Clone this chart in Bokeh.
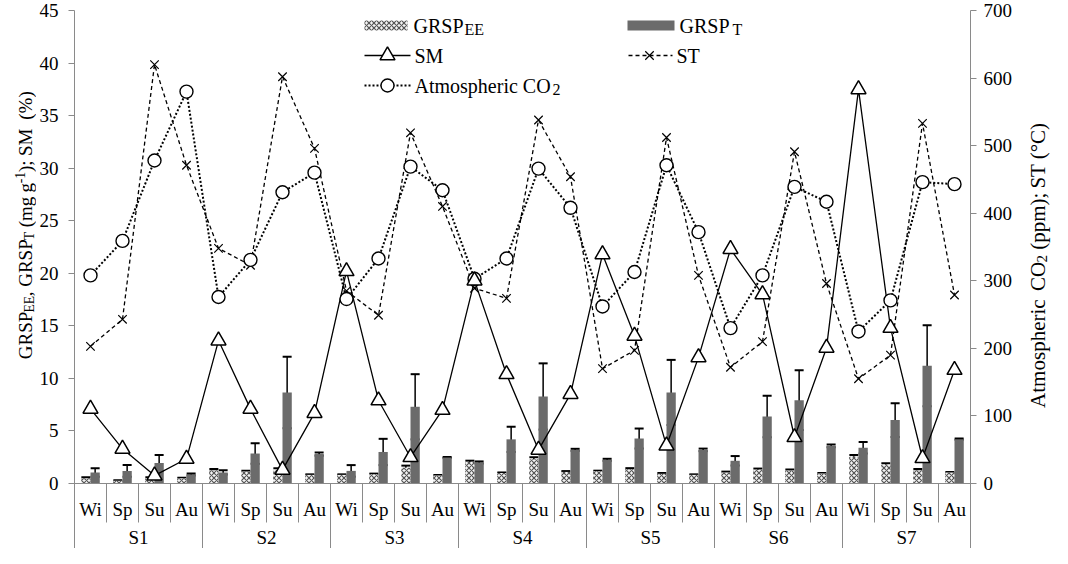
import numpy as np
from bokeh.plotting import figure
from bokeh.layouts import row
from bokeh.models import (Range1d, LinearAxis, FixedTicker, ColumnDataSource,
                          Whisker, TeeHead, BoxAnnotation, Label, Span)
from bokeh.embed import file_html
from bokeh.resources import INLINE
from bokeh.core.properties import value

# ---------------- data ----------------
sites = ["S1", "S2", "S3", "S4", "S5", "S6", "S7"]
seasons = ["Wi", "Sp", "Su", "Au"]

grsp_ee = [0.5, 0.25, 0.5, 0.5, 1.27, 1.14, 1.3, 0.82, 0.82, 0.89, 1.5, 0.76,
           2.05, 1.0, 2.3, 1.1, 1.17, 1.36, 0.92, 0.82, 1.05, 1.3, 1.24, 0.95,
           2.55, 1.78, 1.27, 1.05]
grsp_ee_err = [0.1, 0.05, 0.1, 0.05, 0.1, 0.08, 0.15, 0.05, 0.05, 0.05, 0.2, 0.05,
               0.12, 0.05, 0.2, 0.08, 0.05, 0.1, 0.08, 0.05, 0.08, 0.12, 0.1, 0.05,
               0.15, 0.15, 0.1, 0.05]
grsp_t = [1.05, 1.2, 1.95, 0.85, 1.05, 2.85, 8.66, 2.8, 1.2, 3.0, 7.3, 2.47,
          2.0, 4.2, 8.28, 3.2, 2.25, 4.28, 8.66, 3.2, 2.16, 6.37, 7.93, 3.58,
          3.4, 6.03, 11.2, 4.22]
grsp_t_err = [0.4, 0.55, 0.75, 0.1, 0.2, 0.98, 3.4, 0.15, 0.55, 1.25, 3.1, 0.05,
              0.1, 1.2, 3.15, 0.1, 0.1, 0.95, 3.1, 0.12, 0.45, 1.97, 2.85, 0.12,
              0.55, 1.6, 3.85, 0.05]
sm = [7.1, 3.3, 0.75, 2.35, 13.6, 7.1, 1.3, 6.7, 20.2, 7.9, 2.5, 7.0,
      19.3, 10.4, 3.2, 8.5, 21.8, 14.05, 3.6, 12.0, 22.3, 18.0, 4.4, 12.9,
      37.5, 14.8, 2.4, 10.8]
co2 = [308, 359, 478, 580, 276, 331, 431, 460, 273, 333, 469, 434,
       303, 333, 466, 408, 262, 313, 471, 372, 230, 308, 439, 417,
       225, 271, 446, 443]
st = [203, 243, 620, 471, 348, 323, 602, 496, 285, 249, 519, 410,
      289, 274, 538, 454, 170, 197, 512, 308, 172, 210, 491, 296,
      155, 190, 533, 279]

left_ticks = list(range(0, 46, 5))
right_ticks = list(range(0, 701, 100))

# ---------------- geometry helpers (reference pixels -> data) ----------------
n = len(sites) * len(seasons)
xc = np.arange(n) + 0.5
PXU = (491 - 18) / 45.0


def X(sx):
    return (sx - 82) / 32.0


def Y(sy):
    return (491 - sy) / PXU


H = 548
LW, RW = 36, 30                 # side title panels
MW = 1052 - LW - RW             # main figure width
ybot = Y(556)
FONT = "Liberation Serif"
AX = "#8a8a8a"

p = figure(width=MW, height=H, x_range=Range1d(0, n), y_range=Range1d(ybot, 45),
           output_backend="svg", toolbar_location=None, x_axis_location=None,
           min_border_left=82 - (8 + LW), min_border_right=(8 + LW + MW) - 978,
           min_border_top=10, min_border_bottom=0, outline_line_color=None)
p.extra_y_ranges = {"r": Range1d(ybot * 700 / 45.0, 700)}
p.xgrid.visible = False
p.ygrid.visible = False


def style_axis(ax, standoff):
    ax.axis_line_color = AX
    ax.major_tick_line_color = AX
    ax.minor_tick_line_color = None
    ax.major_tick_out = 6
    ax.major_tick_in = 0
    ax.major_label_text_font = FONT
    ax.major_label_text_font_size = "19px"
    ax.major_label_text_color = "black"
    ax.major_label_standoff = standoff


ly = p.yaxis[0]
ly.ticker = FixedTicker(ticks=left_ticks)
style_axis(ly, 10)
ry = LinearAxis(y_range_name="r", ticker=FixedTicker(ticks=right_ticks))
style_axis(ry, 7)
p.add_layout(ry, "right")

# baseline
p.add_layout(Span(location=0, dimension="width", line_color=AX, line_width=1))

# category separators
bounds = np.arange(n + 1)
ends = [ybot if b % 4 == 0 else Y(530) for b in bounds]
p.segment(x0=bounds, y0=0, x1=bounds, y1=ends, line_color=AX, line_width=1)

# category labels
p.text(x=xc, y=Y(517), text=[seasons[i % 4] for i in range(n)], text_align="center",
       text_baseline="middle", text_font=value(FONT), text_font_size="19px",
       text_color="black")
p.text(x=np.arange(len(sites)) * 4 + 2, y=Y(545), text=sites, text_align="center",
       text_baseline="middle", text_font=value(FONT), text_font_size="19px",
       text_color="black")

# bars
off, bw = 0.145, 0.29
src = ColumnDataSource(dict(
    xe=xc - off, xt=xc + off,
    ee=grsp_ee, t=grsp_t,
    ee_up=np.array(grsp_ee) + np.array(grsp_ee_err),
    ee_lo=np.array(grsp_ee) - np.array(grsp_ee_err),
    t_up=np.array(grsp_t) + np.array(grsp_t_err),
    t_lo=np.array(grsp_t) - np.array(grsp_t_err),
))
HATCH = dict(fill_color="#f4f4f4", hatch_pattern="diagonal_cross", hatch_color="#555555",
             hatch_scale=5, hatch_weight=1.2)
p.vbar(x="xe", top="ee", bottom=0, width=bw, source=src, line_color=None, **HATCH)
p.vbar(x="xt", top="t", bottom=0, width=bw, source=src, line_color=None,
       fill_color="#6b6b6b")
for b, u, l in (("xe", "ee_up", "ee_lo"), ("xt", "t_up", "t_lo")):
    p.add_layout(Whisker(source=src, base=b, upper=u, lower=l, line_color="black",
                         line_width=1.5,
                         upper_head=TeeHead(size=9, line_width=2, line_color="black"),
                         lower_head=TeeHead(size=9, line_width=2, line_color="black")))

# lines
p.line(xc, st, y_range_name="r", line_color="black", line_width=1.3, line_dash="4 3")
p.line(xc, co2, y_range_name="r", line_color="black", line_width=2, line_dash="2 2")
p.line(xc, sm, line_color="black", line_width=1.3)
p.scatter(xc, st, y_range_name="r", marker="x", size=12, line_color="black",
          line_width=1.2)
p.scatter(xc, co2, y_range_name="r", marker="circle", size=13, fill_color="white",
          line_color="black", line_width=1.4)
p.scatter(xc, sm, marker="triangle", size=15, fill_color="white", line_color="black",
          line_width=1.5)

# ---------------- legend (manual) ----------------
p.add_layout(BoxAnnotation(left=X(372), right=X(415), top=Y(28), bottom=Y(38),
                           line_color=None, fill_alpha=1, **HATCH))
p.add_layout(BoxAnnotation(left=X(635), right=X(682), top=Y(28), bottom=Y(38),
                           line_color=None, fill_color="#6b6b6b", fill_alpha=1))
p.line([X(372), X(418)], [Y(63), Y(63)], line_color="black", line_width=1.3)
p.scatter([X(395)], [Y(63)], marker="triangle", size=15, fill_color="white",
          line_color="black", line_width=1.5)
p.line([X(636), X(680)], [Y(63), Y(63)], line_color="black", line_width=1.3,
       line_dash="4 3")
p.scatter([X(657)], [Y(63)], marker="x", size=12, line_color="black", line_width=1.2)
p.line([X(372), X(418)], [Y(93), Y(93)], line_color="black", line_width=2,
       line_dash="2 2")
p.scatter([X(395)], [Y(93)], marker="circle", size=13, fill_color="white",
          line_color="black", line_width=1.4)


def lab(sx, sy, text, size=20):
    p.add_layout(Label(x=X(sx), y=Y(sy), text=text, text_font=FONT,
                       text_font_size=f"{size}px", text_align="left",
                       text_baseline="middle", text_color="black"))


lab(421, 33, "GRSP")
lab(472, 37, "EE", 16)
lab(687, 33, "GRSP")
lab(740, 37, "T", 16)
lab(422, 63, "SM")
lab(684, 63, "ST")
lab(422, 93, "Atmospheric CO")
lab(560, 97, "2", 16)

# ---------------- rotated axis titles (side panels in reference pixels) ----------------
TW = {' ': .25, ',': .25, '(': .333, ')': .333, ';': .278, '%': .833, '-': .333,
      '1': .5, '2': .5, 'G': .722, 'R': .667, 'S': .556, 'P': .556, 'E': .611,
      'T': .611, 'M': .889, 'A': .722, 'C': .667, 'O': .722, 'm': .778, 'g': .5,
      'p': .5, 't': .278, 'o': .5, 's': .389, 'h': .5, 'e': .444, 'r': .333,
      'i': .278, 'c': .444, '°': .4}


def em(s):
    return sum(TW.get(c, .5) for c in s)


def side_fig(x0, width):
    f = figure(width=width, height=H, x_range=Range1d(x0, x0 + width),
               y_range=Range1d(8 + H, 8), output_backend="svg", toolbar_location=None,
               x_axis_location=None, y_axis_location=None, min_border=0,
               outline_line_color=None)
    f.grid.visible = False
    return f


def vtitle(f, pieces, sx, sy_center, size):
    tot = sum(em(t) * size * (0.72 if k != "n" else 1.0) for t, k in pieces)
    sy = sy_center + tot / 2
    for t, k in pieces:
        fs = size * (0.72 if k != "n" else 1.0)
        dx = {"n": 0, "sub": 0.2 * size, "sup": -0.3 * size}[k]
        word = ""
        for ch in t + "\0":
            if ch in (" ", "\0"):
                if word:
                    f.text(x=[sx + dx], y=[sy], text=[word], angle=np.pi / 2,
                           text_align="left", text_baseline="middle",
                           text_font=value(FONT), text_font_size=f"{fs:.1f}px",
                           text_color="black")
                    sy -= em(word) * fs
                    word = ""
                if ch == " ":
                    sy -= em(" ") * fs
            else:
                word += ch


left = side_fig(8, LW)
vtitle(left, [("GRSP", "n"), ("EE", "sub"), (", GRSP", "n"), ("T", "sub"),
              (" (mg g", "n"), ("-1", "sup"), ("); SM  (%)", "n")], 33, 227, 19)
right = side_fig(8 + LW + MW, RW)
vtitle(right, [("Atmospheric  CO", "n"), ("2", "sub"), (" (ppm); ST (°C)", "n")],
       1045, 268, 21)

layout = row(left, p, right, spacing=0)
open("out.html", "w").write(file_html(layout, INLINE))
